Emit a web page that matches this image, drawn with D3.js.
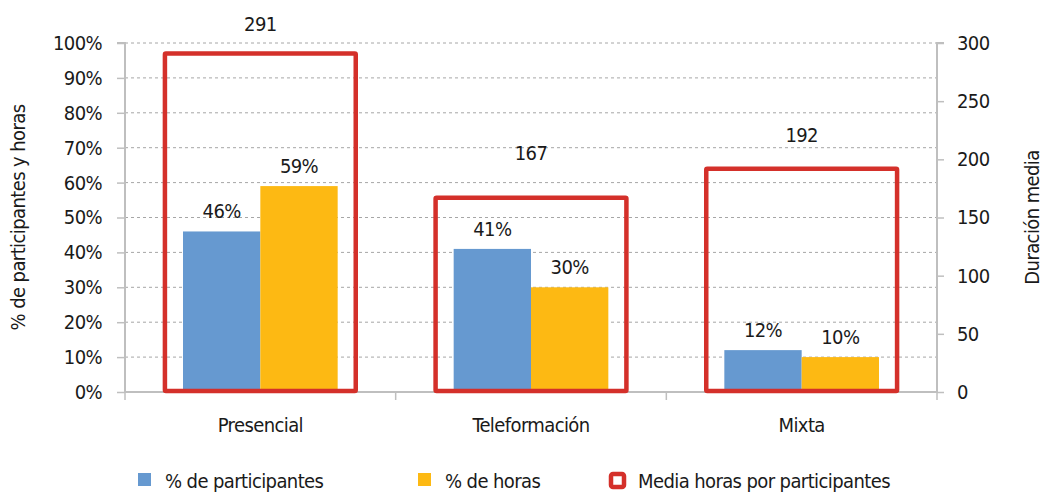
<!DOCTYPE html>
<html>
<head>
<meta charset="utf-8">
<script src="https://cdn.jsdelivr.net/npm/d3@7"></script>
<style>
  body { margin: 0; background: #fff; }
  svg text { font-family: "DejaVu Sans Condensed", "Liberation Sans Narrow", sans-serif; fill: #1a1a1a; letter-spacing: -0.6px; }
</style>
</head>
<body>
<div class="chart"></div>
<script>
var W = 1045, H = 494;
var left = 125, right = 937, top_ = 43, bottom = 392;
var fontSize = 20;

// data
var categories = ["Presencial", "Teleformación", "Mixta"];
var seriesNames = ["% de participantes", "% de horas"];
var pctParticipantes = [0.46, 0.41, 0.12];
var pctHoras = [0.59, 0.30, 0.10];
var mediaHoras = [291, 167, 192];
var leftTicks = [0, 0.1, 0.2, 0.3, 0.4, 0.5, 0.6, 0.7, 0.8, 0.9, 1];
var rightTicks = [0, 50, 100, 150, 200, 250, 300];
var boxLabelDy = [-22, -38, -27]; // labels were nudged by hand in the original

var blue = "#6699d0", orange = "#fdb913", red = "#d4302a", axisGrey = "#bfbfbf";

var svg = d3.select(".chart").append("svg")
    .attr("width", W).attr("height", H);

var x = d3.scaleBand().domain(categories).range([left, right]);
var xs = d3.scaleBand().domain(seriesNames).range([0, x.bandwidth()]).paddingInner(0).paddingOuter(0.75);
var yL = d3.scaleLinear().domain([0, 1]).range([bottom, top_]);
var yR = d3.scaleLinear().domain([0, 300]).range([bottom, top_]);

// dashed grid
svg.append("g").selectAll("line")
  .data(leftTicks.slice(1))
  .enter().append("line")
    .attr("x1", left).attr("x2", right)
    .attr("y1", d => yL(d)).attr("y2", d => yL(d))
    .attr("stroke", "#a6a6a6").attr("stroke-width", 1)
    .attr("stroke-dasharray", "3,3");

// axes
var yAxisL = d3.axisLeft(yL).tickValues(leftTicks).tickFormat(d3.format(".0%")).tickSize(8).tickPadding(15);
var yAxisR = d3.axisRight(yR).tickValues(rightTicks).tickSize(7).tickPadding(13);

function styleAxis(g) {
  g.selectAll(".domain").attr("stroke", axisGrey).attr("stroke-width", 2);
  g.selectAll(".tick line").attr("stroke", axisGrey).attr("stroke-width", 1.5);
  g.selectAll("text").style("font-size", fontSize + "px").attr("fill", "#1a1a1a")
    .attr("font-family", null);
}

svg.append("g").attr("transform", `translate(${left},0)`).call(yAxisL).call(styleAxis)
  .call(g => g.select(".domain").attr("d", `M-8,${top_}H0V${bottom}`));
svg.append("g").attr("transform", `translate(${right},0)`).call(yAxisR).call(styleAxis)
  .call(g => g.select(".domain").attr("d", `M7,${top_}H0V${bottom}`));
svg.selectAll("g").attr("font-family", null);

// category axis: line plus ticks at band edges
var edges = categories.map(c => x(c)).concat([right]);
svg.append("line").attr("x1", left).attr("x2", right).attr("y1", bottom).attr("y2", bottom)
  .attr("stroke", axisGrey).attr("stroke-width", 2);
svg.append("g").selectAll("line").data(edges).enter().append("line")
  .attr("x1", d => d).attr("x2", d => d).attr("y2", bottom + 8)
  .attr("stroke", axisGrey).attr("stroke-width", 1.5)
  .attr("y1", (d, i) => (i == 0 || i == edges.length - 1) ? top_ : bottom);

svg.append("g").selectAll("text").data(categories).enter().append("text")
  .attr("x", d => x(d) + x.bandwidth() / 2)
  .attr("y", 432)
  .attr("text-anchor", "middle")
  .style("font-size", fontSize + "px")
  .text(d => d);

// bars
var barData = [];
categories.forEach(function (c, i) {
  barData.push({ cat: c, s: seriesNames[0], v: pctParticipantes[i], color: blue });
  barData.push({ cat: c, s: seriesNames[1], v: pctHoras[i], color: orange });
});

svg.append("g").selectAll("rect").data(barData).enter().append("rect")
  .attr("x", d => x(d.cat) + xs(d.s))
  .attr("width", xs.bandwidth())
  .attr("y", d => yL(d.v))
  .attr("height", d => bottom - yL(d.v))
  .attr("fill", d => d.color);

svg.append("g").selectAll("text").data(barData).enter().append("text")
  .attr("x", d => x(d.cat) + xs(d.s) + xs.bandwidth() / 2)
  .attr("y", d => yL(d.v) - 13)
  .attr("text-anchor", "middle")
  .style("font-size", fontSize + "px")
  .text(d => d3.format(".0%")(d.v));

// hollow boxes for media horas (secondary axis)
var boxW = x.bandwidth() * 0.705;
svg.append("g").selectAll("rect").data(categories).enter().append("rect")
  .attr("x", d => x(d) + (x.bandwidth() - boxW) / 2)
  .attr("width", boxW)
  .attr("y", (d, i) => yR(mediaHoras[i]))
  .attr("height", (d, i) => bottom - 1 - yR(mediaHoras[i]))
  .attr("fill", "none")
  .attr("stroke", red)
  .attr("stroke-width", 4.5)
  .attr("rx", 1);

svg.append("g").selectAll("text").data(categories).enter().append("text")
  .attr("x", d => x(d) + x.bandwidth() / 2)
  .attr("y", (d, i) => yR(mediaHoras[i]) + boxLabelDy[i])
  .attr("text-anchor", "middle")
  .style("font-size", fontSize + "px")
  .text((d, i) => mediaHoras[i]);

// axis titles
svg.append("text")
  .attr("transform", `translate(25,${(top_ + bottom) / 2}) rotate(-90)`)
  .attr("text-anchor", "middle")
  .style("font-size", fontSize + "px")
  .text("% de participantes y horas");

svg.append("text")
  .attr("transform", `translate(1039,${(top_ + bottom) / 2}) rotate(-90)`)
  .attr("text-anchor", "middle")
  .style("font-size", fontSize + "px")
  .text("Duración media");

// legend
var legendItems = [
  { label: seriesNames[0], x: 138, type: "fill", color: blue },
  { label: seriesNames[1], x: 418, type: "fill", color: orange },
  { label: "Media horas por participantes", x: 609, type: "box", color: red }
];
var lg = svg.append("g").selectAll("g").data(legendItems).enter().append("g")
  .attr("transform", d => `translate(${d.x},480)`);
lg.append("rect")
  .attr("x", d => d.type == "box" ? 2 : 0)
  .attr("y", d => d.type == "box" ? -6 : -7)
  .attr("width", 13)
  .attr("height", 13)
  .attr("fill", d => d.type == "box" ? "#fff" : d.color)
  .attr("stroke", d => d.type == "box" ? d.color : "none")
  .attr("stroke-width", 4.5)
  .attr("rx", d => d.type == "box" ? 2 : 0);
lg.append("text")
  .attr("x", d => d.type == "box" ? 29 : 27)
  .attr("y", 8)
  .style("font-size", fontSize + "px")
  .text(d => d.label);
</script>
</body>
</html>
